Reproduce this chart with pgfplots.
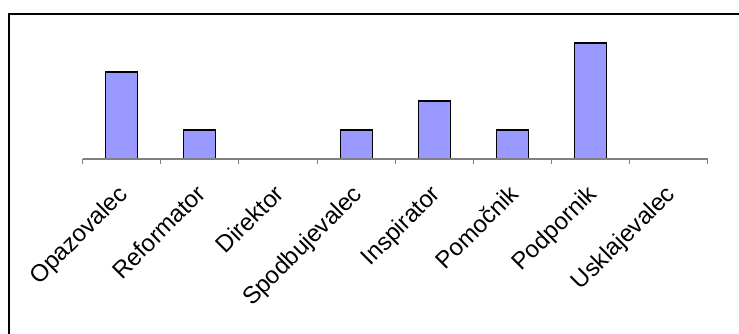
\documentclass[border=0pt]{standalone}
\usepackage{pgfplots}
\pgfplotsset{compat=1.18}
\usepackage{fontspec}
\setmainfont{Liberation Sans}
\definecolor{barblue}{HTML}{9999FF}
\definecolor{axisgray}{HTML}{808080}
\begin{document}
\begin{tikzpicture}
% outer chart frame (continues past the page edge)
\draw[line width=2pt] (9pt,-20pt) -- (9pt,320pt) -- (760pt,320pt);
\begin{axis}[
  at={(82.5pt,175pt)}, anchor=south west,
  scale only axis, width=625.5pt, height=130.5pt,
  xmin=-0.5, xmax=7.5, ymin=0, ymax=4.5,
  axis x line*=bottom, axis y line=none,
  x axis line style={axisgray, line width=1.5pt},
  xtick={0,...,7},
  xticklabels={Opazovalec, Reformator, Direktor, Spodbujevalec, Inspirator, Pomočnik, Podpornik, Usklajevalec},
  major tick length=0pt,
  minor xtick={-0.5,0.5,...,7.5},
  minor tick length=5pt,
  tick align=outside,
  every tick/.style={axisgray, line width=1pt},
  tick label style={font=\fontsize{24}{28}\selectfont},
  xticklabel style={xshift=-5pt, yshift=-24pt, rotate=45, anchor=north east, inner sep=0pt},
  ybar, bar width=32pt,
  axis on top,
  clip=false,
]
\addplot[fill=barblue, draw=black, line width=1.3pt]
  coordinates {(0,3) (1,1) (2,0) (3,1) (4,2) (5,1) (6,4) (7,0)};
\end{axis}
\pgfresetboundingbox
\useasboundingbox (0,0) rectangle (739pt,334pt);
\end{tikzpicture}
\end{document}
